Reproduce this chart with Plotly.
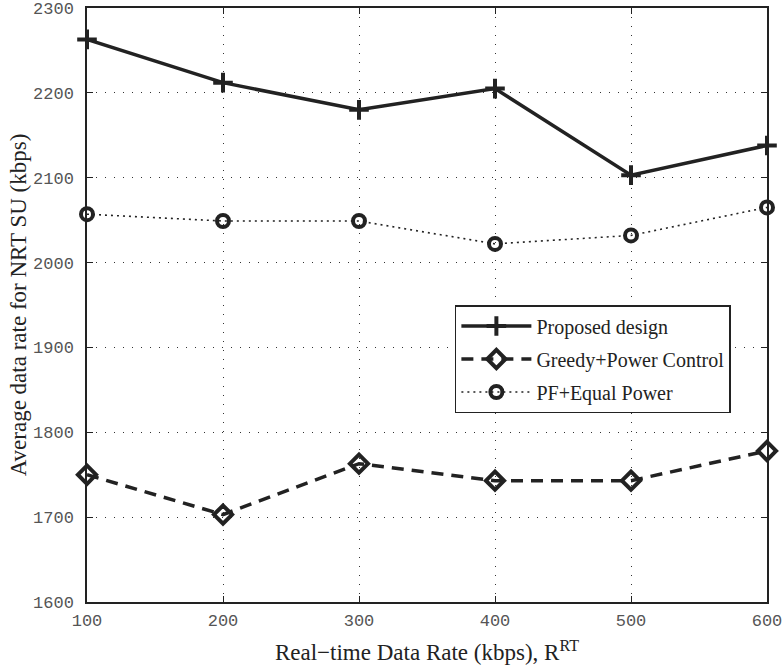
import plotly.graph_objects as go

# Real-time data rate (kbps)
rt_rate = [100, 200, 300, 400, 500, 600]

# Average NRT SU data rate (kbps) for each scheme
proposed = [2263, 2212, 2180, 2205, 2103, 2138]
greedy_pc = [1750, 1703, 1763, 1743, 1743, 1778]
pf_equal = [2057, 2049, 2049, 2022, 2032, 2065]

x_ticks = [100, 200, 300, 400, 500, 600]
y_ticks = [1600, 1700, 1800, 1900, 2000, 2100, 2200, 2300]

ink = "#222222"
serif = "Liberation Serif, Times New Roman, serif"
mono = "Liberation Mono, Courier New, monospace"

fig = go.Figure()

fig.add_trace(go.Scatter(
    x=rt_rate, y=proposed, name="Proposed design", legendgroup="a",
    mode="lines+markers", cliponaxis=False,
    line=dict(color=ink, width=3.5),
    marker=dict(symbol="cross-thin", size=14, color=ink,
                line=dict(color=ink, width=4)),
))

fig.add_trace(go.Scatter(
    x=rt_rate, y=greedy_pc, name="Greedy+Power Control", legendgroup="b",
    mode="lines+markers", cliponaxis=False,
    line=dict(color=ink, width=3.5, dash="12px,8px"),
    marker=dict(symbol="diamond-open", size=14, color=ink,
                line=dict(color=ink, width=4)),
))

fig.add_trace(go.Scatter(
    x=rt_rate, y=pf_equal, name="PF+Equal Power", legendgroup="c",
    mode="lines+markers", cliponaxis=False,
    line=dict(color=ink, width=1.6, dash="2px,4px"),
    marker=dict(symbol="circle-open", size=12, color=ink,
                line=dict(color=ink, width=4)),
))

axis_common = dict(
    showline=True, linecolor=ink, linewidth=1.5, mirror="ticks",
    ticks="inside", ticklen=6, tickcolor=ink, tickwidth=1,
    showgrid=True, gridcolor="#333333", gridwidth=1, griddash="1px,8px",
    zeroline=False, automargin=False, ticklabeloverflow="allow",
    tickfont=dict(family=mono, size=17, color="#555555"),
)

fig.update_xaxes(
    range=[100, 600], tickvals=x_ticks,
    title=dict(text="Real\u2212time Data Rate (kbps), R<sup>RT</sup>",
               font=dict(family=serif, size=23, color=ink), standoff=14),
    ticklabelstandoff=2,
    **axis_common,
)
fig.update_yaxes(
    range=[1600, 2300], tickvals=y_ticks,
    title=dict(text="Average data rate for NRT SU (kbps)",
               font=dict(family=serif, size=23, color=ink), standoff=0),
    ticklabelstandoff=8,
    **axis_common,
)

fig.update_layout(
    width=783, height=667,
    margin=dict(l=87, r=16, t=8, b=65),
    plot_bgcolor="white", paper_bgcolor="white",
    legend=dict(
        x=0.541, y=0.5, xanchor="left", yanchor="top",
        bgcolor="white", bordercolor=ink, borderwidth=1.5,
        font=dict(family=serif, size=20, color=ink),
        itemwidth=70, tracegroupgap=4,
        entrywidth=206, entrywidthmode="pixels",
    ),
)

fig.write_html("out.html")
